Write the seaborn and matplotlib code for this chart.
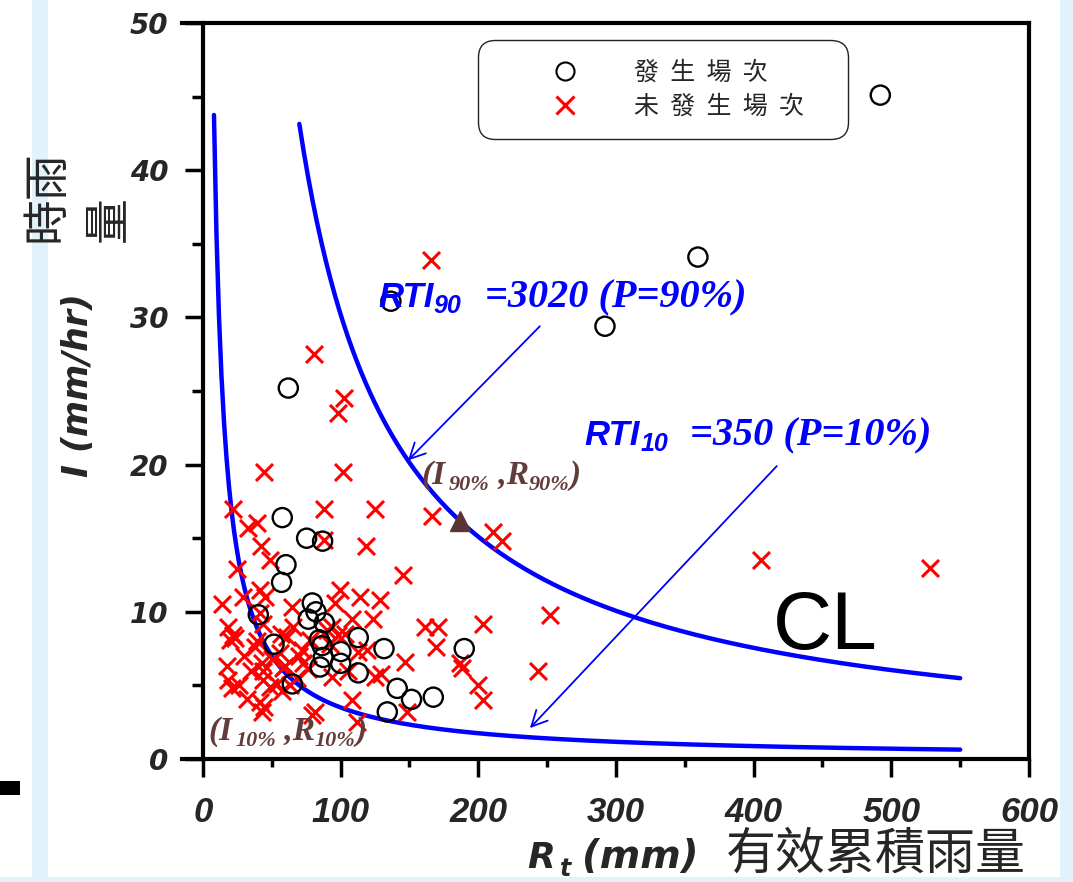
import matplotlib
matplotlib.use('Agg')
import matplotlib.pyplot as plt
import seaborn as sns
import numpy as np
import pandas as pd
from matplotlib.lines import Line2D
from matplotlib.patches import Rectangle
import matplotlib.transforms as mtransforms

# ---------------- data ----------------
occ_R = [492, 359.5, 292, 136.5, 62, 57.6, 75.3, 86.9, 60.3, 57.1, 79.4, 82.1, 76.5,
         88.1, 40.2, 112.8, 84.5, 86.5, 100.2, 131.5, 51.6, 87.4, 100, 85, 112.8, 64.9,
         141.1, 151.5, 167.3, 133.9, 189.8]
occ_I = [45.1, 34.1, 29.4, 31.1, 25.2, 16.4, 15.0, 14.8, 13.2, 12.0, 10.6, 10.0, 9.5,
         9.25, 9.8, 8.25, 8.1, 7.7, 7.3, 7.5, 7.8, 6.9, 6.5, 6.25, 5.85, 5.1,
         4.8, 4.05, 4.2, 3.2, 7.5]

non_R = [166, 81, 102.6, 97.8, 44.5, 102, 405, 528, 252, 243.5, 211, 217, 166.5, 125,
         88, 21.5, 145.5, 118.5, 203.6, 161.5, 170.5, 169, 187, 188, 200, 203.6, 146.7,
         148.5, 112, 88, 99.5, 114, 128.5, 96, 108, 123.7, 93.5, 103, 112.8, 119, 129.5,
         125, 94, 108, 79,
         32.5, 39, 42, 48.7, 24.5, 41.4, 45, 13.6, 29.3, 64.5, 41.4, 18.4, 43.8, 65.6,
         19.6, 22, 23.5, 39, 60.8, 98, 90, 37.8, 77.7, 71.7, 56, 58.3, 72.8, 76, 17.2,
         18.4, 20.8, 31.7, 41.4, 42.6, 43.8, 42.6, 43.8, 48.7, 53.5, 57.1, 59.5, 57,
         81.3, 44, 68, 63, 50, 30, 35, 26, 70, 92, 105]
non_I = [33.9, 27.5, 24.5, 23.5, 19.5, 19.5, 13.5, 13.0, 9.75, 6.0, 15.4, 14.8, 16.5, 17.0,
         17.0, 17.0, 12.5, 14.5, 9.2, 9.0, 9.0, 7.6, 6.5, 6.2, 5.0, 4.0, 6.6,
         3.2, 2.5, 14.9, 11.5, 11.0, 10.8, 10.6, 9.5, 9.5, 9.0, 8.5, 7.3, 7.4, 5.8,
         5.6, 5.6, 4.0, 3.0,
         15.7, 16.0, 14.5, 13.5, 12.9, 11.5, 11.0, 10.5, 11.0, 10.3, 9.9, 9.0, 9.2, 9.0,
         8.1, 8.4, 8.2, 8.0, 8.3, 8.4, 8.75, 7.6, 8.1, 7.4, 7.2, 6.2, 6.5, 6.1, 6.3,
         5.4, 4.8, 4.1, 3.9, 3.2, 6.0, 6.5, 5.4, 4.9, 5.1, 4.6, 6.3, 8.5,
         3.2, 3.5, 5.5, 5.0, 6.8, 7.0, 6.0, 5.0, 7.0, 7.8, 6.0]

RTI90, RTI10 = 3020, 350
R90_range = (70, 550)
R10_range = (8, 550)
R90_point = 186.6

x_ticks = [0, 100, 200, 300, 400, 500, 600]
y_ticks = [0, 10, 20, 30, 40, 50]
legend_labels = ['發  生  場  次', '未  發  生  場  次']

# ---------------- style ----------------
sns.set_theme(style='white')
plt.rcParams['font.family'] = ['DejaVu Sans', 'Noto Sans CJK TC']

W, H = 1073, 882
fig = plt.figure(figsize=(W / 100, H / 100), dpi=100)
fig.patch.set_facecolor('white')

def fx(p):
    return p / W

def fy(p):
    return 1 - p / H

# background decorations
fig.add_artist(Rectangle((fx(32), 0), 16 / W, 1, transform=fig.transFigure,
                         facecolor='#e2f2fb', edgecolor='none', zorder=0))
fig.add_artist(Rectangle((fx(1060), 0), 13 / W, 1, transform=fig.transFigure,
                         facecolor='#e2f2fb', edgecolor='none', zorder=0))
fig.add_artist(Rectangle((0, 0), 1, 5 / H, transform=fig.transFigure,
                         facecolor='#e2f2fb', edgecolor='none', zorder=0))
fig.add_artist(Rectangle((0, fy(795)), 20 / W, 14 / H, transform=fig.transFigure,
                         facecolor='black', edgecolor='none', zorder=1))

ax = fig.add_axes([fx(182.3), fy(759), (1029 - 182.3) / W, (759 - 23) / H])
ax.set_facecolor('white')

# curves
R90 = np.linspace(R90_range[0], R90_range[1], 300)
R10 = np.linspace(R10_range[0], R10_range[1], 300)
sns.lineplot(x=R90, y=RTI90 / R90, color='#0000ff', lw=3.2, ax=ax, zorder=3)
sns.lineplot(x=R10, y=RTI10 / R10, color='#0000ff', lw=3.2, ax=ax, zorder=3)

# scatter
df_occ = pd.DataFrame({'R': occ_R, 'I': occ_I})
df_non = pd.DataFrame({'R': non_R, 'I': non_I})
sns.scatterplot(data=df_non, x='R', y='I', marker='x', s=150, color='#ff0000',
                linewidth=2.2, ax=ax, zorder=4)
sns.scatterplot(data=df_occ, x='R', y='I', marker='o', s=190, facecolor='none',
                edgecolor='black', linewidth=1.7, ax=ax, zorder=5)

# brown triangle
ax.plot([R90_point], [RTI90 / R90_point], marker='^', ms=14, color='#5b3535',
        ls='none', zorder=6)

# arrows
ax.annotate('', xy=(148.9, RTI90 / 148.9), xytext=(244.7, 29.4),
            arrowprops=dict(arrowstyle='->', color='#0000ff', lw=1.3,
                            mutation_scale=28, shrinkA=0, shrinkB=0), zorder=6)
ax.annotate('', xy=(237.5, 2.1), xytext=(416.8, 19.9),
            arrowprops=dict(arrowstyle='->', color='#0000ff', lw=1.3,
                            mutation_scale=28, shrinkA=0, shrinkB=0), zorder=6)

ax.set_xlim(-15, 600)
ax.set_ylim(0, 50)
ax.set_xlabel('')
ax.set_ylabel('')

for side in ['left', 'right', 'top', 'bottom']:
    ax.spines[side].set_visible(True)
    ax.spines[side].set_color('black')
    ax.spines[side].set_linewidth(3)
ax.spines['left'].set_position(('data', 0))

ax.set_xticks(x_ticks)
ax.set_xticks([50, 150, 250, 350, 450, 550], minor=True)
ax.set_yticks(y_ticks)
ax.set_yticks([5, 15, 25, 35, 45], minor=True)
ax.tick_params(axis='x', which='major', direction='out', length=13, width=2.5,
               pad=14, bottom=True, top=False, color='black')
ax.tick_params(axis='x', which='minor', direction='out', length=6, width=2.5,
               bottom=True, top=False, color='black')
ax.tick_params(axis='y', which='major', direction='out', length=13, width=2.5,
               pad=12, left=True, right=False, color='black')
ax.tick_params(axis='y', which='minor', direction='out', length=8, width=2.5,
               left=True, right=False, color='black')
ax.set_xticklabels([str(v) for v in x_ticks], fontfamily='Liberation Sans',
                   fontweight='bold', fontstyle='italic', fontsize=25)
ax.set_yticklabels([str(v) for v in y_ticks], fontfamily='DejaVu Sans',
                   fontweight='bold', fontstyle='italic', fontsize=20)
ax.grid(False)

# legend
handles = [Line2D([], [], marker='o', ls='none', ms=13, mfc='none', mec='black', mew=1.5),
           Line2D([], [], marker='x', ls='none', ms=13, color='#ff0000', mew=2.2)]
leg = ax.legend(handles, legend_labels, loc='upper left',
                bbox_to_anchor=(fx(485), fy(142), 355 / W, 95 / H),
                bbox_transform=fig.transFigure, mode='expand', borderaxespad=0,
                prop=dict(family=['Noto Sans CJK TC'], size=18),
                handlelength=5.45, handletextpad=0.0, borderpad=0.49,
                labelspacing=0.33, fancybox=True, framealpha=1,
                edgecolor='#222222')
leg.get_frame().set_linewidth(1.0)
leg.get_frame().set_boxstyle('round', rounding_size=0.7)
leg.set_zorder(10)

# chained texts
renderer = fig.canvas.get_renderer()

def chain(x, y, parts, color):
    dx = 0.0
    for s, fd, dy, gap in parts:
        dx += gap
        tr = mtransforms.offset_copy(ax.transData, fig=fig, x=dx, y=dy, units='dots')
        t = ax.text(x, y, s, transform=tr, va='baseline', ha='left', color=color,
                    zorder=7, **fd)
        dx += t.get_window_extent(renderer).width

sans_big = dict(family='Liberation Sans', weight='bold', style='italic', size=25)
sans_sub = dict(family='Liberation Sans', weight='bold', style='italic', size=18)
serif_big = dict(family='Liberation Serif', weight='bold', style='italic', size=29)

chain(127.1, 30.7, [('RTI', sans_big, 0, 0), ('90', sans_sub, -6, 0),
                    ('=3020 (P=90%)', serif_big, 0, 24)], '#0000ff')
chain(277.4, 21.3, [('RTI', sans_big, 0, 0), ('10', sans_sub, -6, 0),
                    ('=350 (P=10%)', serif_big, 0, 22)], '#0000ff')

br_big = dict(family='Liberation Serif', weight='bold', style='italic', size=24)
br_sub = dict(family='Liberation Serif', weight='bold', style='italic', size=16)
brown = '#633b3b'
chain(159.0, 18.7, [('(I', br_big, 0, 0), ('90%', br_sub, -6, 3), (' ,R', br_big, 0, 0),
                    ('90%', br_sub, -6, 0), (')', br_big, 0, 0)], brown)
chain(3.6, 1.3, [('(I', br_big, 0, 0), ('10%', br_sub, -6, 3), (' ,R', br_big, 0, 0),
                 ('10%', br_sub, -6, 0), (')', br_big, 0, 0)], brown)

ax.text(414, 7.5, 'CL', fontfamily='Liberation Sans', fontsize=59, color='black',
        va='baseline', ha='left', zorder=7)

# axis titles
fig.text(fx(78), fy(385), 'I (mm/hr)', rotation=90, ha='center', va='center',
         fontfamily='DejaVu Sans', fontweight='bold', fontstyle='italic', fontsize=25)
fig.text(fx(22), fy(242), '時雨\n量', rotation=90, ha='left', va='bottom',
         multialignment='left', linespacing=1.35,
         fontfamily=['Noto Sans CJK TC'], fontweight='light', fontsize=33)

fig.text(fx(527), fy(868), 'R', ha='left', va='baseline',
         fontfamily='DejaVu Sans', fontweight='bold', fontstyle='italic', fontsize=26)
fig.text(fx(560), fy(876), 't', ha='left', va='baseline',
         fontfamily='DejaVu Sans', fontweight='bold', fontstyle='italic', fontsize=17)
fig.text(fx(582), fy(868), '(mm)', ha='left', va='baseline',
         fontfamily='DejaVu Sans', fontweight='bold', fontstyle='italic', fontsize=28)
fig.text(fx(726), fy(869), '有效累積雨量', ha='left', va='baseline',
         fontfamily=['Noto Sans CJK TC'], fontweight='light', fontsize=36)

fig.savefig('out.png', dpi=100, facecolor='white')
